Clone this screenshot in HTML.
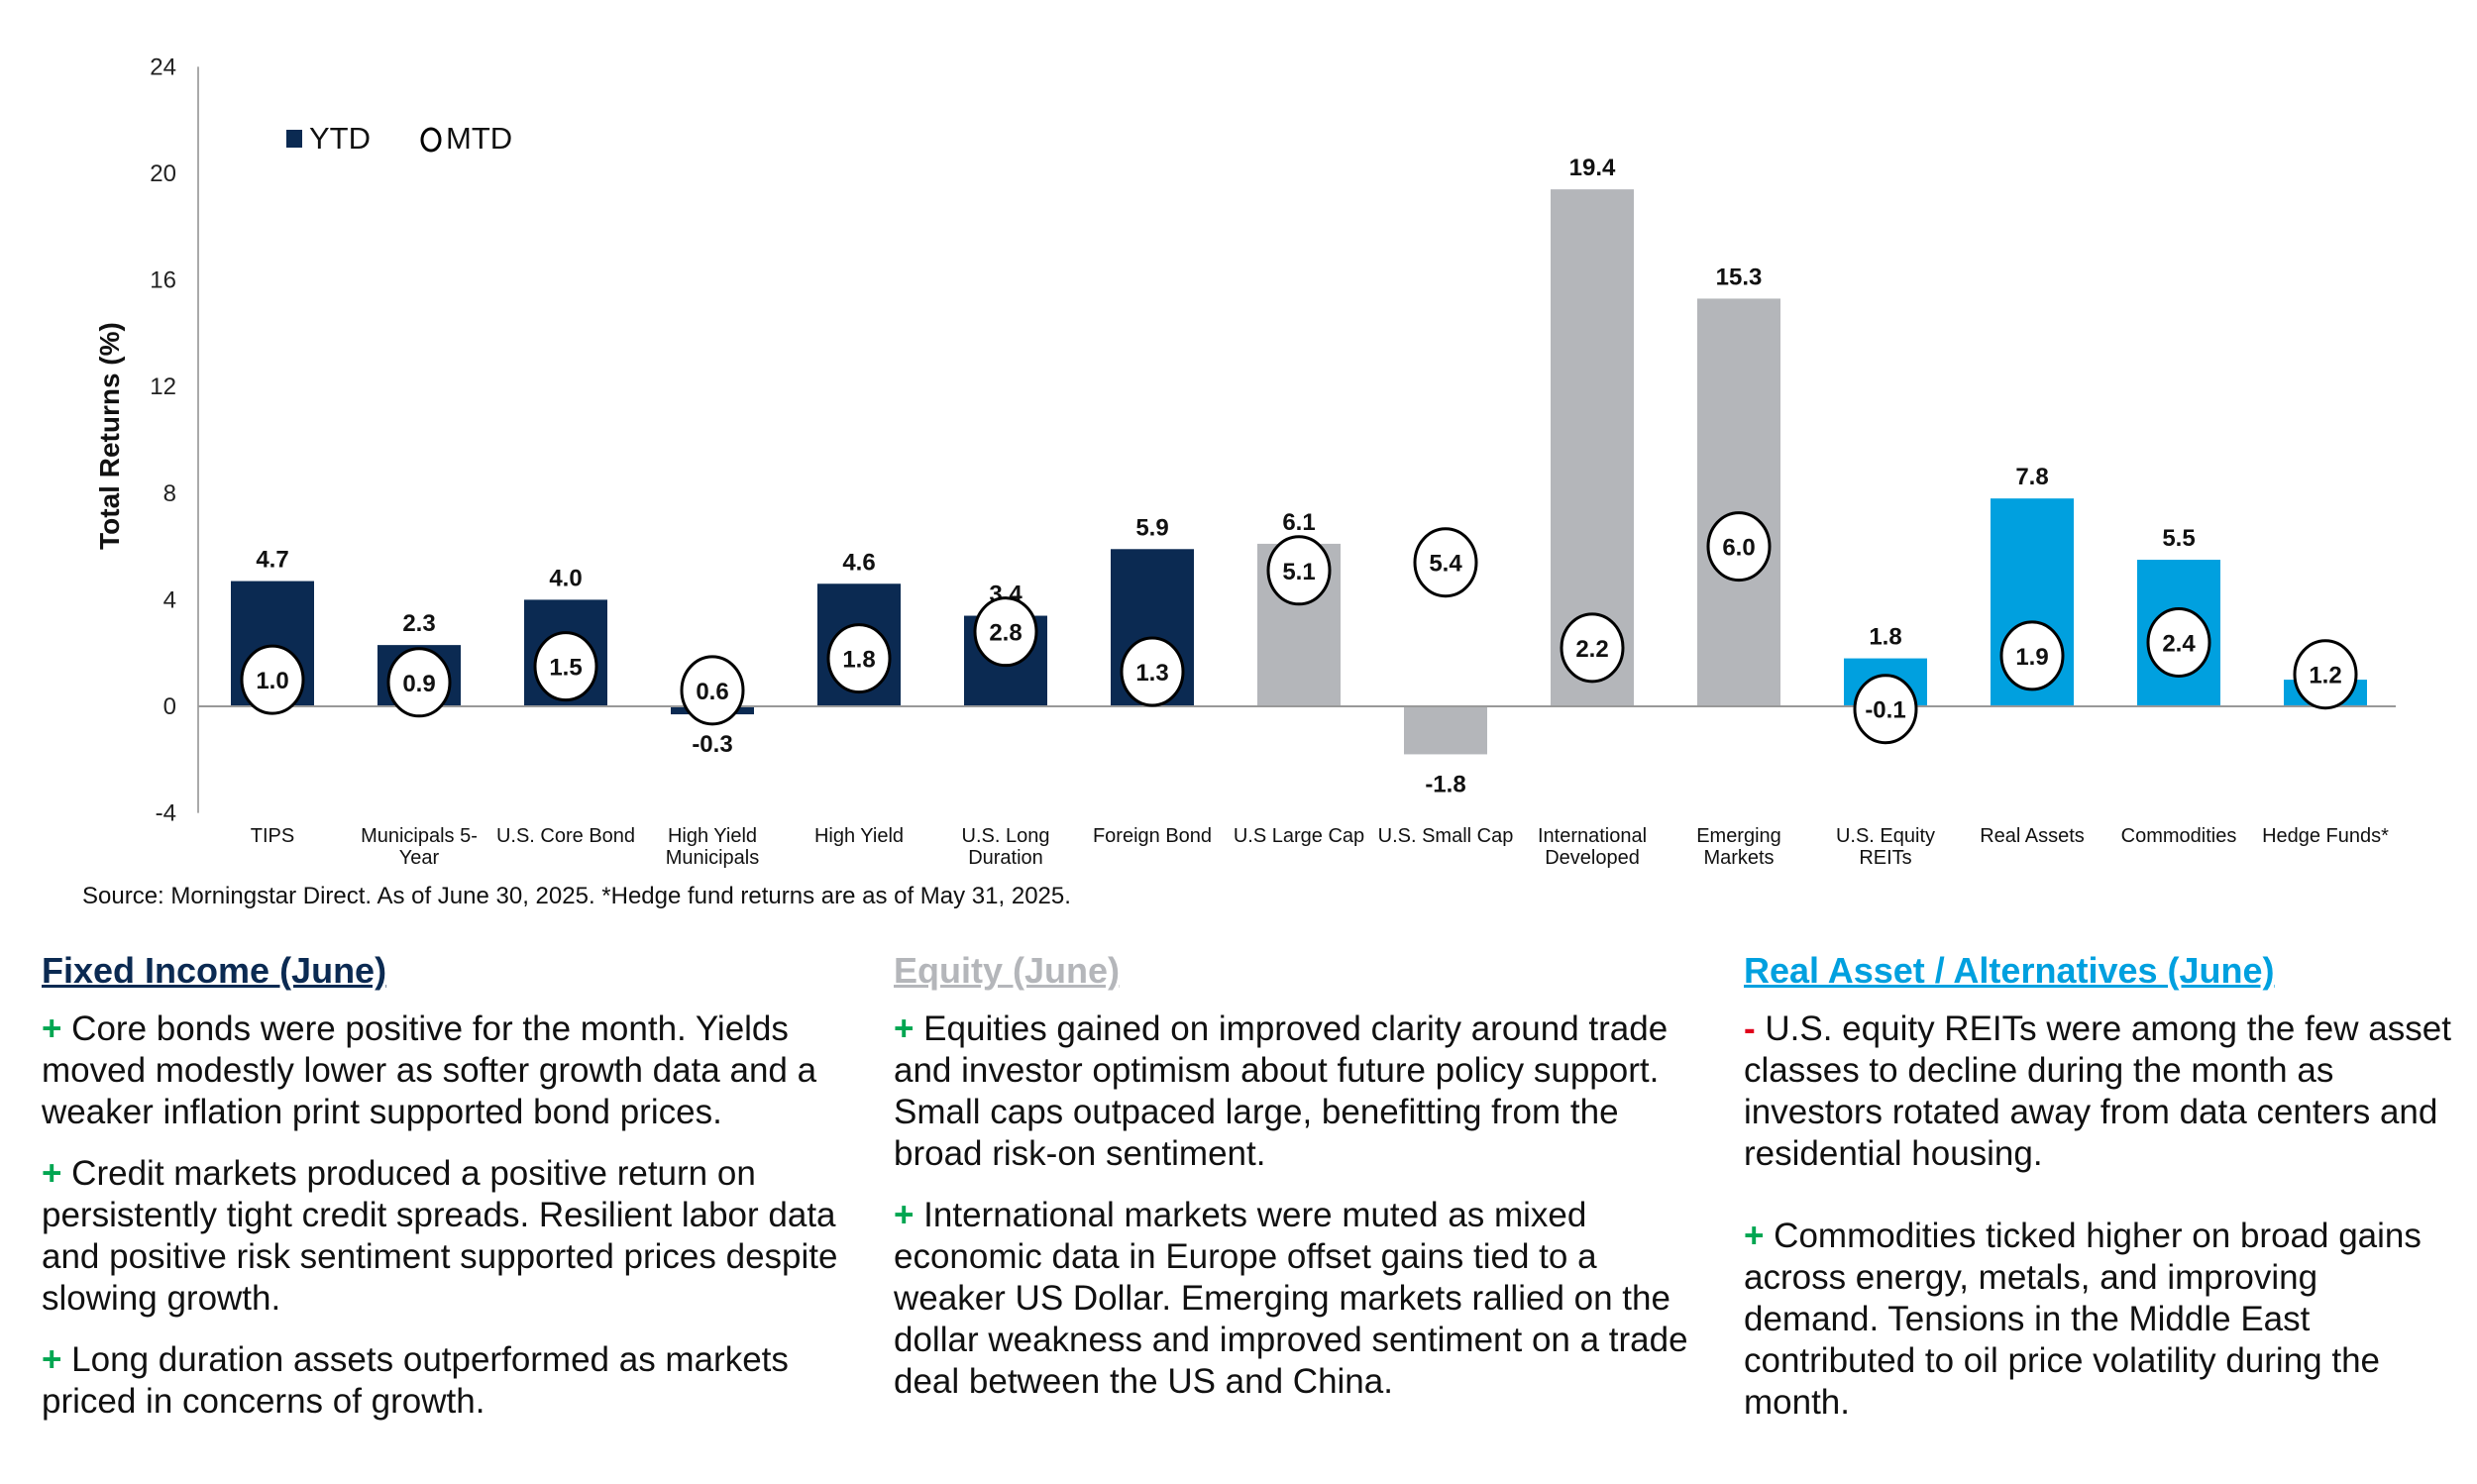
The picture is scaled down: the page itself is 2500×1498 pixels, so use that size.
<!DOCTYPE html>
<html><head><meta charset="utf-8"><style>
body{margin:0;width:2500px;height:1498px;background:#fff;font-family:"Liberation Sans",Arial,sans-serif;overflow:hidden;position:relative}
svg{position:absolute;left:0;top:0}
.col{position:absolute;top:950px;font-size:35px;line-height:42px;color:#111}
.col h2{margin:0 0 8px 0;font-size:36px;font-weight:bold;text-decoration:underline;line-height:60px}
.col p{margin:0 0 20px 0}
.g{color:#00a651;font-weight:bold}.r{color:#e0001b;font-weight:bold}
</style></head><body>
<svg id="chart" width="2500" height="1498"></svg>
<div class="col" style="left:42px;width:810px">
<h2 style="color:#0b2a52">Fixed Income (June)</h2>
<p><span class="g">+</span> Core bonds were positive for the month. Yields moved modestly lower as softer growth data and a weaker inflation print supported bond prices.</p>
<p><span class="g">+</span> Credit markets produced a positive return on persistently tight credit spreads. Resilient labor data and positive risk sentiment supported prices despite slowing growth.</p>
<p><span class="g">+</span> Long duration assets outperformed as markets priced in concerns of growth.</p>
</div>
<div class="col" style="left:902px;width:810px">
<h2 style="color:#b4b6ba">Equity (June)</h2>
<p><span class="g">+</span> Equities gained on improved clarity around trade and investor optimism about future policy support. Small caps outpaced large, benefitting from the broad risk-on sentiment.</p>
<p><span class="g">+</span> International markets were muted as mixed economic data in Europe offset gains tied to a weaker US Dollar. Emerging markets rallied on the dollar weakness and improved sentiment on a trade deal between the US and China.</p>
</div>
<div class="col" style="left:1760px;width:735px">
<h2 style="color:#00a0df">Real Asset / Alternatives (June)</h2>
<p><span class="r">-</span> U.S. equity REITs were among the few asset classes to decline during the month as investors rotated away from data centers and residential housing.</p>
<p style="margin-top:41px;width:700px"><span class="g">+</span> Commodities ticked higher on broad gains across energy, metals, and improving demand. Tensions in the Middle East contributed to oil price volatility during the month.</p>
</div>
<script>
const categories=[["TIPS"],["Municipals 5-","Year"],["U.S. Core Bond"],["High Yield","Municipals"],["High Yield"],["U.S. Long","Duration"],["Foreign Bond"],["U.S Large Cap"],["U.S. Small Cap"],["International","Developed"],["Emerging","Markets"],["U.S. Equity","REITs"],["Real Assets"],["Commodities"],["Hedge Funds*"]];
const ytd=[4.7,2.3,4.0,-0.3,4.6,3.4,5.9,6.1,-1.8,19.4,15.3,1.8,7.8,5.5,1.0];
const mtd=[1.0,0.9,1.5,0.6,1.8,2.8,1.3,5.1,5.4,2.2,6.0,-0.1,1.9,2.4,1.2];
const groups=["fi","fi","fi","fi","fi","fi","fi","eq","eq","eq","eq","ra","ra","ra","ra"];
const yTicks=[24,20,16,12,8,4,0,-4];
const colors={fi:"#0b2a52",eq:"#b4b6ba",ra:"#00a0df"};
const NS="http://www.w3.org/2000/svg";
const svg=document.getElementById('chart');
const y0=713,pxPer=26.9;
function y(v){return y0-v*pxPer;}
function x(i){return 275+i*148;}
function el(t,a,txt){const e=document.createElementNS(NS,t);for(const k in a)e.setAttribute(k,a[k]);if(txt!==undefined)e.textContent=txt;svg.appendChild(e);return e;}
let e;
e=el('line',{x1:200,y1:y(24),x2:200,y2:y(-4),stroke:'#aaa','stroke-width':2});


yTicks.forEach(t=>{e=el('text',{x:178,y:y(t)+8,'text-anchor':'end','font-size':24,fill:'#222'},String(t));

});
e=el('text',{x:0,y:0,transform:'translate(120,440) rotate(-90)','text-anchor':'middle','font-size':28,'font-weight':'bold',fill:'#111'},'Total Returns (%)');


ytd.forEach((v,i)=>{
 const top=Math.min(y(v),y(0)),h=Math.abs(y(v)-y(0));
 e=el('rect',{x:x(i)-42,y:top,width:84,height:h,fill:colors[groups[i]]});
 
 
 const ly=v>=0?y(v)-14:y(v)+38;
 e=el('text',{x:x(i),y:ly,'text-anchor':'middle','font-size':24,'font-weight':'bold',fill:'#111'},v.toFixed(1));
 
 
});
e=el('line',{x1:200,y1:y0,x2:2418,y2:y0,stroke:'#999','stroke-width':2});


mtd.forEach((v,i)=>{
 e=el('ellipse',{cx:x(i),cy:y(v),rx:31,ry:34,fill:'#fff',stroke:'#000','stroke-width':3});
 
 
 e=el('text',{x:x(i),y:y(v)+9,'text-anchor':'middle','font-size':24,'font-weight':'bold',fill:'#111'},v.toFixed(1));
 
 
});
categories.forEach((c,i)=>{c.forEach((ln,j)=>{
 e=el('text',{x:x(i),y:850+j*22,'text-anchor':'middle','font-size':20,fill:'#111'},ln);
 
 });});
e=el('rect',{x:289,y:131,width:16,height:18,fill:'#0b2a52'});


e=el('text',{x:312,y:150,'font-size':31,fill:'#111'},'YTD');


e=el('ellipse',{cx:435,cy:141,rx:9,ry:11,fill:'none',stroke:'#000','stroke-width':3});


e=el('text',{x:450,y:150,'font-size':31,fill:'#111'},'MTD');


e=el('text',{x:83,y:912,'font-size':24,fill:'#111'},'Source: Morningstar Direct. As of June 30, 2025. *Hedge fund returns are as of May 31, 2025.');


</script>
</body></html>
